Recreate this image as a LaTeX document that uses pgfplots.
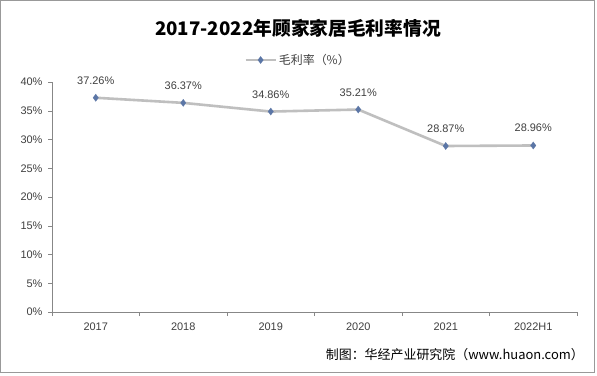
\documentclass[border=0pt]{standalone}
\usepackage{pgfplots}
\pgfplotsset{compat=1.18}
\usepackage{fontspec}
\setmainfont{Liberation Sans}
\newfontfamily\cjk{Noto Sans CJK SC}
\definecolor{linegray}{HTML}{BFBFBF}
\definecolor{markblue}{HTML}{5B76A6}
\definecolor{axgray}{HTML}{878787}
\definecolor{txt}{HTML}{404040}
\begin{document}
\begin{tikzpicture}
\fill[white] (0bp,0bp) rectangle (597bp,-376bp);
\draw[gray!80, line width=0.8bp] (0.5bp,-0.5bp) rectangle (594bp,-372.5bp);
\node[font=\cjk\bfseries\fontsize{18.8}{20}\selectfont, text=black] at (298bp,-28bp) {2017-2022年顾家家居毛利率情况};
\begin{axis}[
  at={(52bp,-312bp)}, anchor=south west,
  scale only axis, width=525bp, height=230bp,
  xmin=-0.5, xmax=5.5, ymin=0, ymax=40,
  axis lines=left, axis line style={axgray, -},
  ytick={0,5,...,40},
  yticklabel={\pgfmathprintnumber{\tick}\%},
  xtick={0,...,5},
  xticklabels={2017,2018,2019,2020,2021,2022H1},
  minor xtick={-0.5,0.5,...,5.5},
  major x tick style={draw=none},
  minor x tick style={axgray},
  y tick style={axgray},
  tick align=outside,
  major tick length=4bp, minor tick length=4bp,
  ticklabel style={font=\fontsize{11}{13}\selectfont, text=txt},
  /pgf/number format/assume math mode=true,
  xticklabel style={yshift=-3bp},
  yticklabel style={xshift=-2bp},
  clip=false,
  legend style={at={(0.4686,1.0957)}, anchor=center, draw=none, fill=none,
    font=\cjk\fontsize{12}{14}\selectfont, text=txt, inner sep=0pt,
    /tikz/every even column/.append style={column sep=1bp}},
  legend image code/.code={
    \draw[#1, mark repeat=2, mark phase=2] plot coordinates {(0bp,0bp) (15bp,0bp) (30bp,0bp)};
  },
  nodes near coords={\pgfmathprintnumber[fixed,precision=2,fixed zerofill]{\pgfplotspointmeta}\%},
  point meta=y,
  every node near coord/.append style={font=\fontsize{11}{13}\selectfont, text=txt, anchor=south, yshift=10bp},
]
\addplot[linegray, line width=2.6bp, mark=diamond*, mark size=3.6bp, mark options={markblue, fill=markblue, line width=0.2bp}]
coordinates {(0,37.26) (1,36.37) (2,34.86) (3,35.21) (4,28.87) (5,28.96)};
\addlegendentry{毛利率（\%）}
\end{axis}
\node[anchor=east, font=\cjk\fontsize{13}{15}\selectfont, text=black, inner sep=0pt] at (584bp,-355bp) {制图：华经产业研究院（www.huaon.com）};
\end{tikzpicture}
\end{document}
